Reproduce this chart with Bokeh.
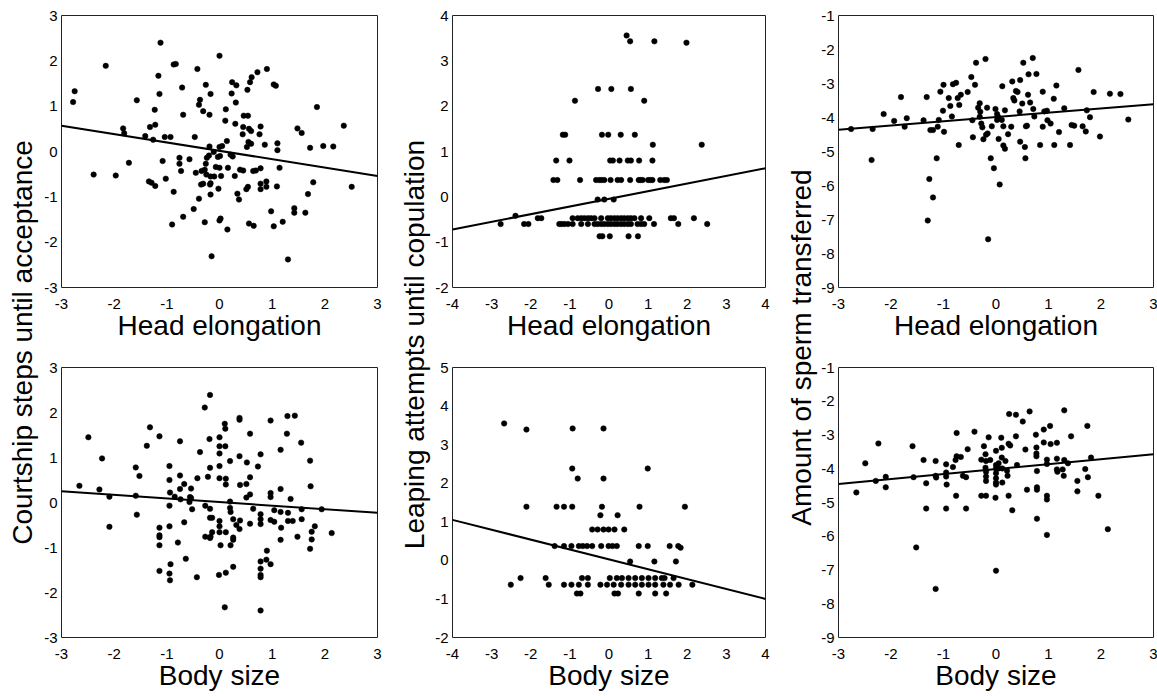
import math
from bokeh.plotting import figure
from bokeh.layouts import row, column
from bokeh.models import Range1d, FixedTicker, Label
from bokeh.embed import file_html
from bokeh.resources import INLINE

FONT = "Liberation Sans"

# ---------------- data ----------------
# Courtship steps until acceptance vs Head elongation
acc_head_x = [-2.78, -2.75, -2.16, -1.12, 0.00, -1.57, -1.16, -1.14, -1.23, -1.32,
              -1.22, -1.83, -1.81, -1.41, -1.26, -1.04, -0.93, -0.87, -0.83, -0.71,
              -0.69, -0.42, -0.37, -0.39, -0.31, -0.26, -0.17, -0.19, -0.47, -0.19,
              0.00, 0.05, 0.14, 0.12, 0.11, 0.24, 0.32, 0.23, 0.31, 0.30,
              0.53, 0.58, 0.61, 0.72, 0.90, 1.03, 1.07, 0.46, 0.54, 0.45,
              0.56, 0.44, 0.60, 0.78, 0.76, 0.55, 0.52, 0.60, 0.86, 1.10,
              1.10, 1.48, 1.56, 1.85, 1.72, 1.97, 2.16, 2.36, 2.51, -2.39,
              -1.97, -1.72, -1.34, -1.29, -1.22, -1.08, -1.02, -0.87, -0.90, -0.76,
              -0.76, -0.73, -0.69, -0.57, -0.45, -0.39, -0.49, -0.28, -0.34, -0.28,
              -0.26, -0.24, -0.20, -0.25, -0.35, -0.31, -0.17, -0.17, -0.18, -0.17,
              -0.10, -0.11, -0.07, 0.00, -0.03, 0.01, 0.03, -0.02, 0.02, 0.00,
              -0.15, 0.15, 0.16, 0.21, 0.25, 0.29, 0.34, 0.37, 0.39, 0.45,
              0.54, 0.51, 0.56, 0.65, 0.64, 0.69, 0.78, 0.78, 0.78, 0.89,
              0.89, 0.98, 1.03, 1.09, 1.14, 1.20, 1.30, 1.42, 1.42, 1.63, 1.68, 1.78]
acc_head_y = [1.09, 1.33, 1.89, 2.40, 2.11, 1.13, 1.67, 1.27, 0.92, 0.54,
              0.59, 0.51, 0.40, 0.34, 0.26, 0.32, 0.32, 1.92, 1.93, 1.41,
              0.81, 1.82, 1.14, 1.03, 0.89, 1.47, 1.27, 0.81, 0.32, 0.11,
              0.10, 0.12, 0.23, 0.93, 0.68, 1.53, 1.46, 1.28, 1.08, 0.61,
              1.36, 1.53, 1.64, 1.75, 1.82, 1.48, 1.45, 0.79, 0.79, 0.54,
              0.50, 0.38, 0.45, 0.55, 0.38, 0.21, 0.10, 0.17, 0.15, 0.18,
              0.03, 0.51, 0.41, 0.98, 0.08, 0.12, 0.11, 0.57, -0.78, -0.51,
              -0.53, -0.25, -0.66, -0.69, -0.76, -0.21, -0.60, -0.89, -1.61, -0.14,
              -0.27, -0.43, -1.44, -0.17, -0.47, -1.04, -1.27, -1.56, -0.43, -0.40,
              -0.27, -0.14, -0.09, -0.51, -0.73, -0.71, -0.55, -0.70, -0.73, -0.95,
              -0.55, -0.01, -0.34, -0.36, -0.12, -0.10, -0.54, -0.82, -1.48, -1.52,
              -2.31, -1.72, -0.36, -0.07, -0.11, -0.54, -0.93, -1.06, -0.40, -0.42,
              -0.78, -0.83, -1.59, -1.64, -0.43, -0.42, -0.37, -0.71, -0.83, -0.66,
              -0.78, -1.32, -1.65, -0.77, -0.36, -1.55, -2.38, -1.25, -1.35, -1.35, -0.94, -0.68]
acc_head_fit = [0.57, -0.54]

# Leaping attempts until copulation vs Head elongation
cop_head_x = [0.45, 0.54, 1.16, 1.98,
              -0.28, 0.06, 0.56,
              -0.87, 0.90,
              -1.18, -1.12, -0.18, -0.02, 0.30, 0.66,
              1.12, 2.37,
              -1.35, -1.01, 0.03, 0.10, 0.27, 0.48, 0.56, 0.77, 1.11,
              -1.42, -1.32, -0.74, -0.33, -0.25, -0.19, -0.12, 0.04, 0.22, 0.31,
              0.54, 0.76, 0.80, 0.86, 1.00, 1.06, 1.11, 1.31, 1.41, 1.48,
              -0.29, -0.12, 0.12,
              -2.39, -1.82, -1.73, -0.93, -0.80, -0.71, -0.63, -0.54, -0.46, -0.37,
              -0.20, -0.03, 0.05, 0.14, 0.22, 0.31, 0.39, 0.48, 0.56, 0.65,
              0.82, 1.03, 1.58, 1.66, 2.17,
              -2.77, -2.17, -2.06, -1.27, -1.21, -1.14, -1.05, -0.93, -0.71, -0.54,
              -0.37, -0.29, -0.20, -0.12, -0.03, 0.05, 0.14, 0.22, 0.31, 0.39,
              0.48, 0.56, 0.73, 0.82, 0.90, 1.15, 1.77, 2.51,
              -0.24, -0.17, 0.02, 0.50, 0.74]
cop_head_y = [3.56, 3.43, 3.43, 3.40,
              2.38, 2.38, 2.38,
              2.12, 2.12,
              1.37, 1.37, 1.37, 1.37, 1.37, 1.37,
              1.15, 1.15,
              0.80, 0.80, 0.80, 0.80, 0.80, 0.80, 0.80, 0.80, 0.80,
              0.37, 0.37, 0.37, 0.37, 0.37, 0.37, 0.37, 0.37, 0.37, 0.37,
              0.37, 0.37, 0.37, 0.37, 0.37, 0.37, 0.37, 0.37, 0.37, 0.37,
              -0.06, -0.06, -0.06,
              -0.42, -0.47, -0.47, -0.47, -0.47, -0.47, -0.47, -0.47, -0.47, -0.47,
              -0.47, -0.47, -0.47, -0.47, -0.47, -0.47, -0.47, -0.47, -0.47, -0.47,
              -0.47, -0.47, -0.47, -0.47, -0.47,
              -0.60, -0.60, -0.60, -0.60, -0.60, -0.60, -0.60, -0.60, -0.60, -0.60,
              -0.60, -0.60, -0.60, -0.60, -0.60, -0.60, -0.60, -0.60, -0.60, -0.60,
              -0.60, -0.60, -0.60, -0.60, -0.60, -0.60, -0.60, -0.60,
              -0.87, -0.87, -0.87, -0.87, -0.87]
cop_head_fit = [-0.72, 0.63]

# Amount of sperm transferred vs Head elongation
sperm_head_x = [-2.76, -2.35, -2.37, -2.14, -1.94, -1.81, -1.70, -1.74, -1.38, -1.32,
                -1.27, -1.30, -1.20, -1.13, -1.25, -1.20, -1.11, -1.09, -1.06, -1.00,
                -1.01, -0.99, -0.90, -0.87, -0.84, -0.82, -0.76, -0.73, -0.70, -0.67,
                -0.71, -0.54, -0.47, -0.45, -0.44, -0.40, -0.38, -0.34, -0.31, -0.31,
                -0.30, -0.28, -0.26, -0.24, -0.20, -0.19, -0.17, -0.16, -0.15, -0.10,
                -0.04, -0.08, -0.01, 0.02, 0.02, 0.04, 0.05, 0.07, 0.11, 0.12,
                0.14, 0.14, 0.17, 0.17, 0.23, 0.29, 0.31, 0.33, 0.35, 0.38,
                0.41, 0.46, 0.45, 0.46, 0.50, 0.52, 0.55, 0.56, 0.57, 0.59,
                0.61, 0.62, 0.65, 0.70, 0.71, 0.73, 0.77, 0.84, 0.89, 0.89,
                0.92, 0.97, 0.98, 1.04, 1.10, 1.11, 1.15, 1.20, 1.30, 1.41,
                1.44, 1.49, 1.57, 1.65, 1.71, 1.73, 1.79, 1.86, 1.98, 2.17,
                2.37, 2.52]
sperm_head_y = [-4.34, -4.34, -5.25, -3.90, -4.10, -3.40, -4.02, -4.27, -4.08, -3.40,
                -5.81, -7.03, -6.35, -5.20, -4.37, -4.37, -4.27, -4.07, -3.24, -3.04,
                -3.80, -4.42, -3.43, -3.66, -3.97, -3.02, -2.98, -3.43, -3.63, -3.33,
                -4.81, -3.25, -2.81, -4.08, -4.58, -3.04, -2.39, -3.71, -3.58, -3.98,
                -3.83, -4.18, -4.29, -4.64, -2.28, -4.51, -3.71, -4.47, -7.58, -5.20,
                -5.49, -4.26, -3.75, -3.90, -4.07, -3.98, -4.63, -5.97, -4.07, -3.08,
                -4.26, -4.82, -4.92, -3.79, -4.49, -4.27, -2.94, -3.43, -3.50, -3.22,
                -3.25, -2.90, -3.82, -4.71, -3.59, -2.39, -4.87, -5.20, -4.26, -4.24,
                -3.33, -2.73, -3.56, -2.25, -3.75, -3.97, -2.72, -4.81, -3.24, -4.27,
                -3.82, -3.80, -4.08, -4.18, -3.45, -4.81, -3.06, -4.43, -3.73, -4.81,
                -4.22, -4.24, -2.60, -4.26, -4.41, -3.79, -3.99, -3.25, -4.56, -3.30,
                -3.31, -4.06]
sperm_head_fit = [-4.36, -3.61]

# Courtship steps until acceptance vs Body size
acc_body_x = [-2.66, -2.49, -2.28, -2.23, -2.09, -2.09, -1.59, -1.59, -1.57, -1.52,
              -1.38, -1.32, -1.14, -1.14, -1.14, -1.14, -1.14, -1.14, -0.95, -0.95,
              -0.94, -0.95, -0.95, -0.93, -0.95, -0.94, -0.85, -0.79, -0.75, -0.75,
              -0.75, -0.74, -0.67, -0.67, -0.64, -0.56, -0.57, -0.54, -0.54, -0.52,
              -0.43, -0.42, -0.37, -0.28, -0.27, -0.27, -0.22, -0.19, -0.18, -0.18,
              -0.18, -0.18, -0.17, -0.18, -0.14, -0.14, 0.00, 0.00, 0.00, 0.00,
              0.00, 0.00, 0.00, 0.00, 0.02, -0.01, 0.10, 0.11, 0.11, 0.12,
              0.12, 0.12, 0.12, 0.10, 0.20, 0.20, 0.20, 0.21, 0.21, 0.26,
              0.26, 0.26, 0.26, 0.38, 0.38, 0.38, 0.39, 0.39, 0.38, 0.32,
              0.52, 0.51, 0.51, 0.58, 0.58, 0.58, 0.58, 0.64, 0.73, 0.78,
              0.78, 0.78, 0.78, 0.78, 0.78, 0.78, 0.78, 0.78, 0.89, 0.90,
              0.97, 0.97, 0.97, 0.97, 0.97, 1.04, 1.04, 1.16, 1.16, 1.16,
              1.17, 1.16, 1.28, 1.29, 1.30, 1.30, 1.35, 1.39, 1.43, 1.48,
              1.55, 1.56, 1.56, 1.72, 1.72, 1.73, 1.75, 1.75, 1.81, 1.94,
              2.13]
acc_body_y = [0.37, 1.45, 0.29, 0.98, 0.13, -0.54, 0.78, 0.15, -0.27, 0.59,
              1.26, 1.67, 1.47, -0.56, -0.73, -0.77, -0.95, -1.52, 0.81, 0.50,
              0.22, -0.07, -0.53, -1.37, -1.58, -1.73, 0.13, -0.89, 1.36, 0.60,
              0.30, 0.07, 0.41, -0.44, -1.25, 0.12, 0.01, 0.31, 0.10, -0.15,
              -1.66, 0.54, 1.12, 2.11, -0.07, -0.76, 0.57, 1.41, 2.39, 0.77,
              -0.14, -0.34, -0.76, -0.79, -0.66, -0.34, 1.45, 1.25, 1.09, 0.81,
              0.54, -0.41, -0.53, -0.66, -0.95, -1.61, 1.75, 1.64, 1.25, 0.53,
              0.40, -0.66, -1.56, -2.33, 0.92, 0.02, -0.12, -0.21, -0.95, -0.37,
              -0.78, -0.83, -1.43, 1.03, 1.84, 1.88, 0.39, -0.40, -0.59, -0.50,
              0.89, 0.41, 0.11, 1.53, 0.56, 0.18, -0.47, -0.14, 0.80, 1.07,
              -0.26, -0.37, -0.48, -1.31, -1.47, -1.61, -1.66, -2.40, -1.27, -1.07,
              1.82, 0.21, 0.12, -0.39, -1.37, -0.43, -0.17, 1.17, 0.30, -0.21,
              -0.56, -0.83, 1.53, 1.92, -0.23, -0.41, 0.08, -0.41, 1.93, -0.76,
              1.33, -0.15, -0.37, 0.93, -1.03, 0.36, -0.65, -0.82, -0.53, -0.15,
              -0.68]
acc_body_fit = [0.25, -0.23]

# Leaping attempts until copulation vs Body size
cop_body_x = [-2.68, -2.11, -0.93, -0.14,
              -0.94, 0.99,
              -0.80, -0.14,
              -2.11, -1.34, -1.15, -0.94, -0.18, 0.78, 1.94,
              -0.22, 0.22,
              -0.43, -0.29, -0.14, -0.01, 0.14, 0.39,
              -1.39, -1.15, -0.96, -0.77, -0.67, -0.56, -0.43, -0.20, -0.01, 0.09,
              0.20, 0.76, 0.99, 1.55, 1.77, 1.83,
              0.54, 1.16, 1.71,
              -2.26, -1.62, -0.69, -0.54, 0.02, 0.20, 0.33, 0.50, 0.67, 0.84,
              1.01, 1.18, 1.35, 1.42, 1.65,
              -2.51, -1.54, -1.15, -0.96, -0.77, -0.54, -0.22, -0.05, 0.12, 0.31,
              0.50, 0.67, 0.84, 1.01, 1.18, 1.39, 1.56, 1.78, 2.13,
              -0.82, -0.73, 0.14, 0.23, 0.76, 1.18, 1.46]
cop_body_y = [3.55, 3.39, 3.42, 3.42,
              2.38, 2.38,
              2.12, 2.12,
              1.39, 1.39, 1.39, 1.39, 1.39, 1.39, 1.39,
              1.17, 1.17,
              0.80, 0.80, 0.80, 0.80, 0.80, 0.80,
              0.37, 0.37, 0.37, 0.37, 0.37, 0.37, 0.37, 0.37, 0.37, 0.37,
              0.37, 0.37, 0.37, 0.37, 0.37, 0.33,
              -0.03, -0.03, -0.03,
              -0.46, -0.46, -0.46, -0.46, -0.46, -0.46, -0.46, -0.46, -0.46, -0.46,
              -0.46, -0.46, -0.46, -0.46, -0.46,
              -0.63, -0.63, -0.63, -0.63, -0.63, -0.63, -0.63, -0.63, -0.63, -0.63,
              -0.63, -0.63, -0.63, -0.63, -0.63, -0.63, -0.63, -0.63, -0.63,
              -0.86, -0.86, -0.86, -0.86, -0.86, -0.86, -0.86]
cop_body_fit = [1.05, -1.00]

# Amount of sperm transferred vs Body size
sperm_body_x = [-2.66, -2.49, -2.29, -2.24, -2.10, -2.10, -1.59, -1.57, -1.52, -1.38,
                -1.33, -1.33, -1.15, -1.15, -1.14, -1.15, -0.95, -0.95, -0.95, -0.94,
                -0.95, -0.82, -0.77, -0.75, -0.75, -0.76, -0.67, -0.63, -0.57, -0.57,
                -0.54, -0.41, -0.28, -0.23, -0.20, -0.19, -0.20, -0.19, -0.19, -0.19,
                -0.28, -0.19, -0.14, -0.11, 0.00, 0.00, 0.00, 0.00, 0.00, 0.00,
                0.00, -0.01, 0.00, 0.05, 0.05, 0.10, 0.11, 0.11, 0.12, 0.12,
                0.18, 0.21, 0.22, 0.24, 0.25, 0.24, 0.27, 0.31, 0.38, 0.38,
                0.40, 0.51, 0.56, 0.59, 0.64, 0.76, 0.77, 0.77, 0.77, 0.78,
                0.78, 0.78, 0.78, 0.91, 0.91, 0.97, 0.97, 0.97, 0.97, 0.97,
                1.03, 1.04, 1.16, 1.16, 1.16, 1.17, 1.27, 1.29, 1.30, 1.30,
                1.37, 1.43, 1.55, 1.55, 1.70, 1.74, 1.75, 1.81, 1.95, 2.13]
sperm_body_y = [-4.70, -3.84, -4.36, -3.25, -4.24, -4.55, -3.33, -4.25, -6.33, -3.74,
                -4.43, -5.18, -3.77, -4.21, -4.26, -7.56, -3.87, -4.11, -4.23, -4.47,
                -5.18, -3.95, -3.74, -3.63, -2.94, -4.80, -3.65, -4.21, -4.25, -5.18,
                -3.42, -2.90, -3.73, -3.33, -3.57, -3.77, -3.97, -4.09, -4.23, -4.36,
                -4.80, -4.80, -3.07, -3.74, -3.47, -3.89, -3.99, -4.13, -4.28, -4.41,
                -4.47, -4.86, -7.02, -3.84, -3.99, -3.08, -3.38, -3.67, -3.99, -4.41,
                -3.77, -4.06, -4.21, -3.26, -2.38, -4.80, -3.31, -5.23, -2.40, -3.04,
                -3.89, -2.60, -3.43, -4.62, -2.30, -2.99, -3.37, -3.55, -3.63, -4.07,
                -4.55, -4.62, -5.48, -3.22, -2.84, -3.73, -3.86, -4.80, -4.91, -5.96,
                -2.73, -3.27, -3.23, -3.70, -4.02, -4.09, -4.02, -4.21, -2.27, -3.74,
                -3.84, -3.04, -4.36, -4.67, -4.01, -2.73, -4.25, -3.67, -4.80, -5.79]
sperm_body_fit = [-4.45, -3.57]

# axes
x_ticks_3 = [-3, -2, -1, 0, 1, 2, 3]
x_ticks_4 = [-4, -3, -2, -1, 0, 1, 2, 3, 4]
y_ticks_acc = [-3, -2, -1, 0, 1, 2, 3]
y_ticks_cop_head = [-2, -1, 0, 1, 2, 3, 4]
y_ticks_cop_body = [-2, -1, 0, 1, 2, 3, 4, 5]
y_ticks_sperm = [-9, -8, -7, -6, -5, -4, -3, -2, -1]

ylabel_acc = "Courtship steps until acceptance"
ylabel_cop = "Leaping attempts until copulation"
ylabel_sperm = "Amount of sperm transferred"
xlabel_head = "Head elongation"
xlabel_body = "Body size"


def style_axis(ax, ticks, standoff):
    ax.ticker = FixedTicker(ticks=ticks)
    ax.major_label_overrides = {t: str(t) for t in ticks}
    ax.axis_line_color = None
    ax.major_tick_line_color = None
    ax.minor_tick_line_color = None
    ax.major_tick_out = 0
    ax.major_tick_in = 0
    ax.minor_tick_out = 0
    ax.major_label_standoff = standoff
    ax.major_label_text_font = FONT
    ax.major_label_text_font_size = "15px"
    ax.major_label_text_color = "black"


def panel(xs, ys, fit, xr, yr, xt, yt, xlabel, width, height, bl, br, bt, bb):
    p = figure(width=width, height=height,
               x_range=Range1d(xr[0], xr[1]), y_range=Range1d(yr[0], yr[1]),
               output_backend="svg", toolbar_location=None,
               min_border_left=bl, min_border_right=br,
               min_border_top=bt, min_border_bottom=bb)
    p.xgrid.visible = False
    p.ygrid.visible = False
    p.outline_line_color = "#222222"
    p.outline_line_width = 1
    p.background_fill_color = "white"
    p.border_fill_color = "white"
    style_axis(p.xaxis[0], xt, 11)
    style_axis(p.yaxis[0], yt, 4)
    p.yaxis[0].major_label_text_baseline = "top"
    p.xaxis[0].axis_label = xlabel
    p.xaxis[0].axis_label_text_font = FONT
    p.xaxis[0].axis_label_text_font_size = "28px"
    p.xaxis[0].axis_label_text_font_style = "normal"
    p.xaxis[0].axis_label_text_color = "black"
    p.xaxis[0].axis_label_standoff = -2
    p.line([xr[0], xr[1]], fit, line_color="black", line_width=2)
    p.scatter(xs, ys, size=5.5, fill_color="black", line_color="black", line_width=0.5)
    return p


def label_fig(width, height, text, bx, cy):
    p = figure(width=width, height=height, x_range=Range1d(0, width), y_range=Range1d(0, height),
               output_backend="svg", toolbar_location=None,
               x_axis_location=None, y_axis_location=None,
               min_border_left=0, min_border_right=0, min_border_top=0, min_border_bottom=0)
    p.xgrid.visible = False
    p.ygrid.visible = False
    p.outline_line_color = None
    p.border_fill_color = "white"
    p.add_layout(Label(x=bx, y=cy, text=text, angle=math.pi / 2,
                       text_align="center", text_baseline="alphabetic",
                       text_font=FONT, text_font_size="28px", text_color="black"))
    return p


H1, H2 = 349, 347
TOTAL_H = H1 + H2

p1 = panel(acc_head_x, acc_head_y, acc_head_fit, (-3, 3), (-3, 3), x_ticks_3, y_ticks_acc,
           xlabel_head, 350, H1, 21, 13, 15, 62)
p4 = panel(acc_body_x, acc_body_y, acc_body_fit, (-3, 3), (-3, 3), x_ticks_3, y_ticks_acc,
           xlabel_body, 350, H2, 21, 13, 18, 59)
p2 = panel(cop_head_x, cop_head_y, cop_head_fit, (-4, 4), (-2, 4), x_ticks_4, y_ticks_cop_head,
           xlabel_head, 346, H1, 19, 13, 15, 62)
p5 = panel(cop_body_x, cop_body_y, cop_body_fit, (-4, 4), (-2, 5), x_ticks_4, y_ticks_cop_body,
           xlabel_body, 346, H2, 19, 13, 18, 59)
p3 = panel(sperm_head_x, sperm_head_y, sperm_head_fit, (-3, 3), (-9, -1), x_ticks_3, y_ticks_sperm,
           xlabel_head, 339, H1, 20, 4, 15, 62)
p6 = panel(sperm_body_x, sperm_body_y, sperm_body_fit, (-3, 3), (-9, -1), x_ticks_3, y_ticks_sperm,
           xlabel_body, 339, H2, 20, 4, 18, 59)

lab1 = label_fig(40, TOTAL_H, ylabel_acc, 22, 354)
lab2 = label_fig(42, TOTAL_H, ylabel_cop, 24, 352)
lab3 = label_fig(40, TOTAL_H, ylabel_sperm, 23, 349)

page = row(lab1, column(p1, p4), lab2, column(p2, p5), lab3, column(p3, p6))

open("out.html", "w").write(file_html(page, INLINE))
